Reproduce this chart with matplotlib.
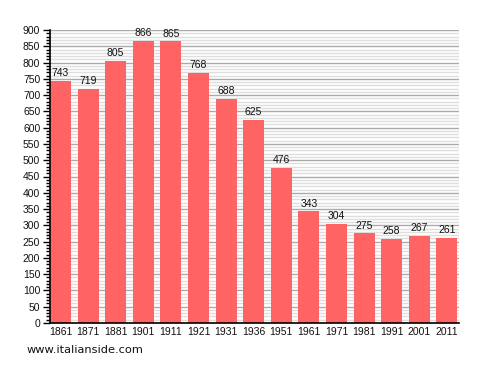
import matplotlib
matplotlib.use("Agg")
import matplotlib.pyplot as plt
from matplotlib.ticker import MultipleLocator

# Census years and population
years = ["1861", "1871", "1881", "1901", "1911", "1921", "1931", "1936",
         "1951", "1961", "1971", "1981", "1991", "2001", "2011"]
population = [743, 719, 805, 866, 865, 768, 688, 625,
              476, 343, 304, 275, 258, 267, 261]

bar_color = "#ff6464"
width = 0.76

fig = plt.figure(figsize=(4.88, 3.73), dpi=100)
ax = fig.add_axes([50 / 488, 50 / 373, 409 / 488, 293 / 373])

pos = list(range(len(years)))
ax.bar(pos, population, width=width, color=bar_color, zorder=3)

for x, v in zip(pos, population):
    ax.annotate(str(v), (x, v), xytext=(0, 2), textcoords="offset points",
                ha="center", va="bottom", fontsize=7.5,
                family="Liberation Sans", color="#111111", zorder=4)

ax.set_xlim(-width / 2, len(years) - 1 + width / 2 + 0.06)
ax.set_ylim(0, 900)

ax.yaxis.set_major_locator(MultipleLocator(50))
ax.yaxis.set_minor_locator(MultipleLocator(10))
ax.grid(which="major", axis="y", color="#aaaaaa", linewidth=1, zorder=1)
ax.grid(which="minor", axis="y", color="#dedede", linewidth=1, zorder=0)

ax.set_xticks(pos)
ax.set_xticklabels(years)
ax.tick_params(axis="x", length=0, pad=3)
ax.tick_params(axis="y", which="major", length=5, width=1, pad=2)
ax.tick_params(axis="y", which="minor", length=3, width=1)
for lab in ax.get_xticklabels() + ax.get_yticklabels():
    lab.set_fontsize(7.5)
    lab.set_family("Liberation Sans")
    lab.set_color("#111111")

for side in ("top", "right"):
    ax.spines[side].set_visible(False)
for side in ("left", "bottom"):
    ax.spines[side].set_linewidth(1.2)
    ax.spines[side].set_zorder(5)

fig.text(27 / 488, 1 - 350 / 373, "www.italianside.com", fontsize=8.2,
         family="DejaVu Sans", va="center", ha="left", color="#111111")

fig.savefig("out.png", dpi=100)
